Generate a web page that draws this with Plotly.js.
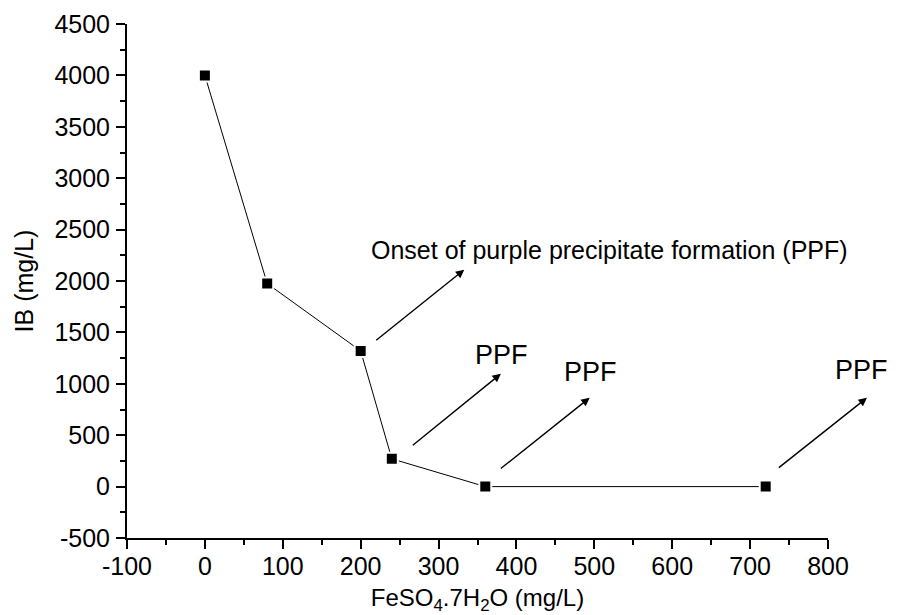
<!DOCTYPE html>
<html>
<head>
<meta charset="utf-8">
<script src="https://cdn.plot.ly/plotly-3.0.1.min.js"></script>
<style>html,body{margin:0;padding:0;background:#fff;}#chart{width:899px;height:615px;}</style>
</head>
<body>
<div id="chart"></div>
<script>
// FeSO4.7H2O dose (mg/L)
var feso4Dose = [0, 80, 200, 240, 360, 720];
// IB concentration (mg/L)
var ibConc = [4000, 1975, 1320, 270, 0, 0];

var xTickVals = [-100, 0, 100, 200, 300, 400, 500, 600, 700, 800];
var xTickText = ['-100', '0', '100', '200', '300', '400', '500', '600', '700', '800'];
var yTickVals = [-500, 0, 500, 1000, 1500, 2000, 2500, 3000, 3500, 4000, 4500];
var yTickText = ['-500', '0', '500', '1000', '1500', '2000', '2500', '3000', '3500', '4000', '4500'];

var FONT = 'Liberation Sans, Arial, sans-serif';

var trace = {
  x: feso4Dose,
  y: ibConc,
  type: 'scatter',
  mode: 'lines+markers',
  line: {color: '#000', width: 1},
  marker: {symbol: 'square', size: 12, color: '#000', line: {color: '#fff', width: 2}},
  showlegend: false,
  hoverinfo: 'x+y'
};

function arrow(tx, ty, hx, hy) {
  return {x: hx, y: hy, ax: tx, ay: ty, xref: 'x', yref: 'y', axref: 'x', ayref: 'y',
    text: '', showarrow: true, arrowhead: 2, arrowsize: 1.2, arrowwidth: 1.4,
    arrowcolor: '#000', standoff: 0, startstandoff: 0};
}
function label(t, x, y, size, xshift) {
  return {x: x, y: y, xref: 'x', yref: 'y', text: t, showarrow: false, xshift: xshift || 0,
    font: {family: FONT, size: size, color: '#000'}, xanchor: 'center', yanchor: 'middle'};
}

var layout = {
  width: 899, height: 615,
  margin: {l: 127, r: 71, t: 24, b: 77, pad: 0},
  paper_bgcolor: '#fff', plot_bgcolor: '#fff',
  font: {family: FONT, size: 25, color: '#000'},
  xaxis: {
    range: [-100, 800], tickvals: xTickVals, ticktext: xTickText,
    showgrid: false, zeroline: false, showline: true, linecolor: '#000', linewidth: 2,
    ticks: 'outside', ticklen: 9, tickwidth: 2, tickcolor: '#000',
    ticklabelstandoff: -4,
    minor: {dtick: 50, ticks: 'outside', ticklen: 5, tickwidth: 2, tickcolor: '#000', showgrid: false},
    tickfont: {family: FONT, size: 25, color: '#000'},
    title: {text: 'FeSO<sub>4</sub>.7H<sub>2</sub>O (mg/L)', font: {family: FONT, size: 24, color: '#000'}, standoff: 10},
    fixedrange: true
  },
  yaxis: {
    range: [-500, 4500], tickvals: yTickVals, ticktext: yTickText,
    showgrid: false, zeroline: false, showline: true, linecolor: '#000', linewidth: 2,
    ticks: 'outside', ticklen: 9, tickwidth: 2, tickcolor: '#000',
    ticklabelstandoff: 1,
    minor: {dtick: 250, ticks: 'outside', ticklen: 5, tickwidth: 2, tickcolor: '#000', showgrid: false},
    tickfont: {family: FONT, size: 25, color: '#000'},
    title: {text: 'IB (mg/L)', font: {family: FONT, size: 25, color: '#000'}, standoff: 14},
    fixedrange: true
  },
  annotations: [
    arrow(218, 1412, 333, 2110),
    arrow(265, 390, 380, 1098),
    arrow(378, 164, 494, 864),
    arrow(735, 173, 850, 864),
    label('Onset of purple precipitate formation (PPF)', 520, 2298, 25),
    label('PPF', 381, 1276, 27),
    label('PPF', 495, 1113, 27),
    label('PPF', 800, 1130, 27, 33)
  ]
};

Plotly.newPlot('chart', [trace], layout, {displayModeBar: false, staticPlot: true});
</script>
</body>
</html>
